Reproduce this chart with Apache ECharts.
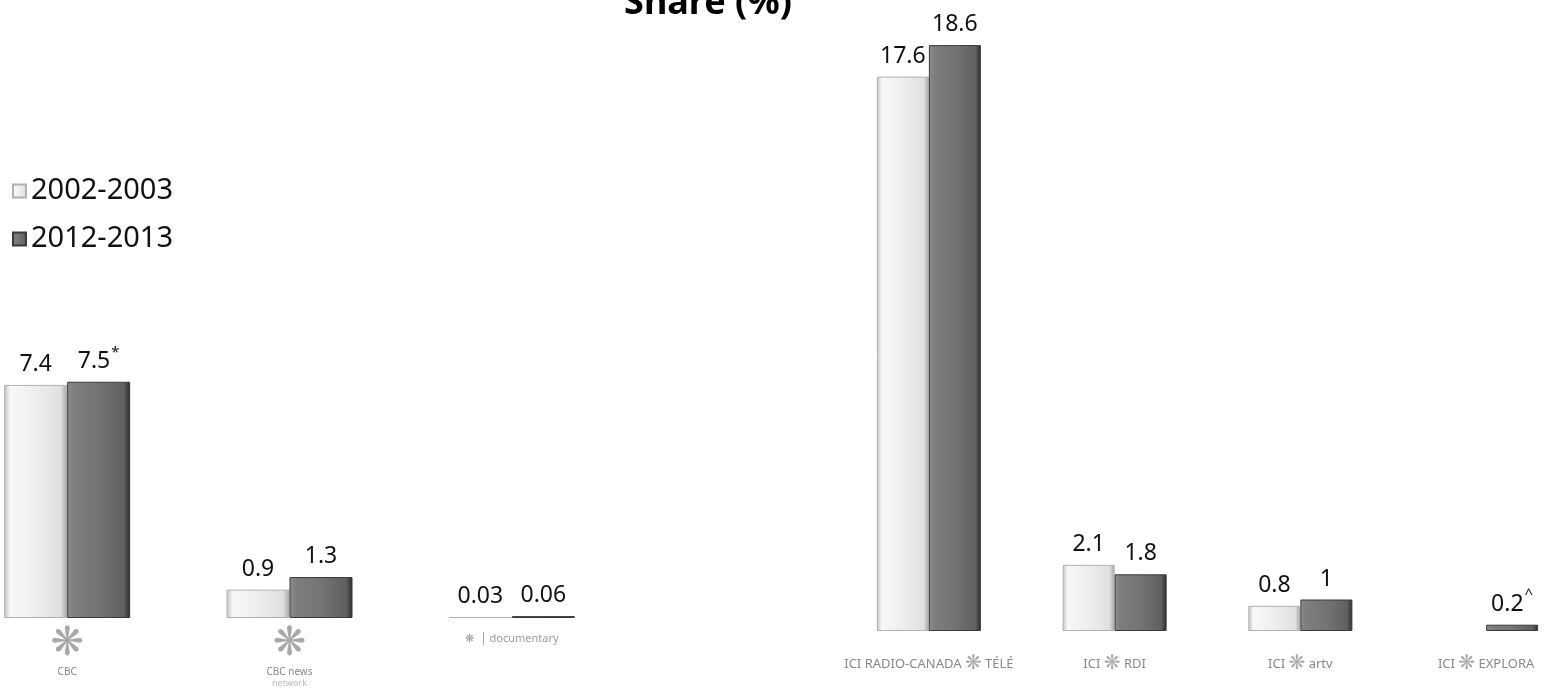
<!DOCTYPE html>
<html>
<head>
<meta charset="utf-8">
<script src="https://cdn.jsdelivr.net/npm/echarts@6/dist/echarts.min.js"></script>
<style>
  html, body { margin: 0; padding: 0; background: #fff; overflow: hidden; }
  /* the left pair of bars starts flush with the page edge, so the canvas is shifted a bit */
  #main { width: 1628px; height: 709px; margin-left: -44px; margin-top: -20px; }
</style>
</head>
<body>
<div id="main"></div>
<script>
// English networks (left) and French networks (right)
var leftCats = ['CBC', 'CBC News Network', 'documentary'];
var rightCats = ['ICI Radio-Canada Télé', 'ICI RDI', 'ICI ARTV', 'ICI Explora'];
var left2002 = [7.4, 0.9, 0.03];
var left2012 = [7.5, 1.3, 0.06];
var right2002 = [17.6, 2.1, 0.8, null];
var right2012 = [18.6, 1.8, 1, 0.2];
// footnote marks shown next to some 2012-2013 values
var notes2012 = { 'CBC': '*', 'ICI Explora': '^' };

var FONT = '"Noto Sans", "DejaVu Sans", sans-serif';

var lightFill = new echarts.graphic.LinearGradient(0, 0, 1, 0, [
  { offset: 0, color: '#c4c4c4' },
  { offset: 0.1, color: '#f8f8f8' },
  { offset: 0.5, color: '#eeeeee' },
  { offset: 0.9, color: '#e0e0e0' },
  { offset: 1, color: '#a4a4a4' }
]);
var darkFill = new echarts.graphic.LinearGradient(0, 0, 1, 0, [
  { offset: 0, color: '#8e8e8e' },
  { offset: 0.1, color: '#7e7e7e' },
  { offset: 0.5, color: '#747474' },
  { offset: 0.9, color: '#606060' },
  { offset: 1, color: '#2a2a2a' }
]);

function valueLabel(cats) {
  return {
    show: true,
    position: 'top',
    distance: 9,
    formatter: function (p) {
      var note = notes2012[cats[p.dataIndex]];
      if (p.seriesName === '2012-2013' && note) {
        return '{v|' + p.value + '}{s|' + note + '}';
      }
      return '{v|' + p.value + '}';
    },
    rich: {
      v: { fontFamily: FONT, fontSize: 23, color: '#111', lineHeight: 28, verticalAlign: 'bottom' },
      s: { fontFamily: FONT, fontSize: 15, color: '#111', lineHeight: 28, verticalAlign: 'top', padding: [0, 0, 0, 1] }
    }
  };
}

function catLabel(value) {
  var gem = '\u274B';
  var map = {
    'CBC': '{g|' + gem + '}\n{t|CBC}',
    'CBC News Network': '{g|' + gem + '}\n{t|CBC news}\n{n|network}',
    'documentary': '{m|' + gem + '  \u2502 documentary}',
    'ICI Radio-Canada Télé': '{r|ICI RADIO-CANADA }{h|' + gem + '}{r| TÉLÉ}',
    'ICI RDI': '{r|ICI }{h|' + gem + '}{r| RDI}',
    'ICI ARTV': '{r|ICI }{h|' + gem + '}{r| artv}',
    'ICI Explora': '{r|ICI }{h|' + gem + '}{r| EXPLORA}'
  };
  return map[value] || value;
}

var catRich = {
  g: { fontFamily: 'DejaVu Sans', fontSize: 40, color: '#a8a8a8', lineHeight: 42 },
  t: { fontFamily: FONT, fontSize: 10, color: '#888', lineHeight: 12 },
  n: { fontFamily: FONT, fontSize: 9, color: '#bbb', lineHeight: 10 },
  m: { fontFamily: FONT, fontSize: 11, color: '#999', lineHeight: 30 },
  r: { fontFamily: FONT, fontSize: 13, color: '#888', lineHeight: 22 },
  h: { fontFamily: 'DejaVu Sans', fontSize: 20, color: '#aaa', lineHeight: 22 }
};

var option = {
  animation: false,
  backgroundColor: '#fff',
  title: {
    text: 'Share (%)',
    left: 747,
    textAlign: 'center',
    top: 1,
    textStyle: { fontFamily: FONT, fontSize: 36, fontWeight: 'bold', color: '#000' }
  },
  legend: {
    orient: 'vertical',
    left: 51,
    top: 190,
    icon: 'rect',
    itemWidth: 13,
    itemHeight: 13,
    itemGap: 16,
    data: ['2002-2003', '2012-2013'],
    textStyle: { fontFamily: FONT, fontSize: 29, color: '#111', lineHeight: 32 }
  },
  grid: [
    { left: 0, width: 667, top: 8, height: 630 },
    { left: 880, width: 743, top: 21, height: 630 }
  ],
  xAxis: [
    {
      gridIndex: 0, type: 'category', data: leftCats,
      axisLine: { show: false }, axisTick: { show: false },
      axisLabel: { interval: 0, margin: 6, formatter: catLabel, rich: catRich }
    },
    {
      gridIndex: 1, type: 'category', data: rightCats,
      axisLine: { show: false }, axisTick: { show: false },
      axisLabel: { interval: 0, margin: 22, formatter: catLabel, rich: catRich }
    }
  ],
  yAxis: [
    { gridIndex: 0, type: 'value', min: 0, max: 20, show: false },
    { gridIndex: 1, type: 'value', min: 0, max: 20, show: false }
  ],
  series: [
    {
      name: '2002-2003', type: 'bar', xAxisIndex: 0, yAxisIndex: 0,
      data: left2002, barWidth: 63, barGap: '0%',
      itemStyle: { color: lightFill, borderColor: '#b0b0b0', borderWidth: 1 },
      label: valueLabel(leftCats)
    },
    {
      name: '2012-2013', type: 'bar', xAxisIndex: 0, yAxisIndex: 0,
      data: left2012, barWidth: 63, barGap: '0%',
      itemStyle: { color: darkFill, borderColor: '#3a3a3a', borderWidth: 1 },
      label: valueLabel(leftCats)
    },
    {
      name: '2002-2003', type: 'bar', xAxisIndex: 1, yAxisIndex: 1,
      data: right2002, barWidth: 52, barGap: '0%',
      itemStyle: { color: lightFill, borderColor: '#b0b0b0', borderWidth: 1 },
      label: valueLabel(rightCats)
    },
    {
      name: '2012-2013', type: 'bar', xAxisIndex: 1, yAxisIndex: 1,
      data: right2012, barWidth: 52, barGap: '0%',
      itemStyle: { color: darkFill, borderColor: '#3a3a3a', borderWidth: 1 },
      label: valueLabel(rightCats)
    }
  ]
};

var chart = echarts.init(document.getElementById('main'));
chart.setOption(option);
</script>
</body>
</html>
